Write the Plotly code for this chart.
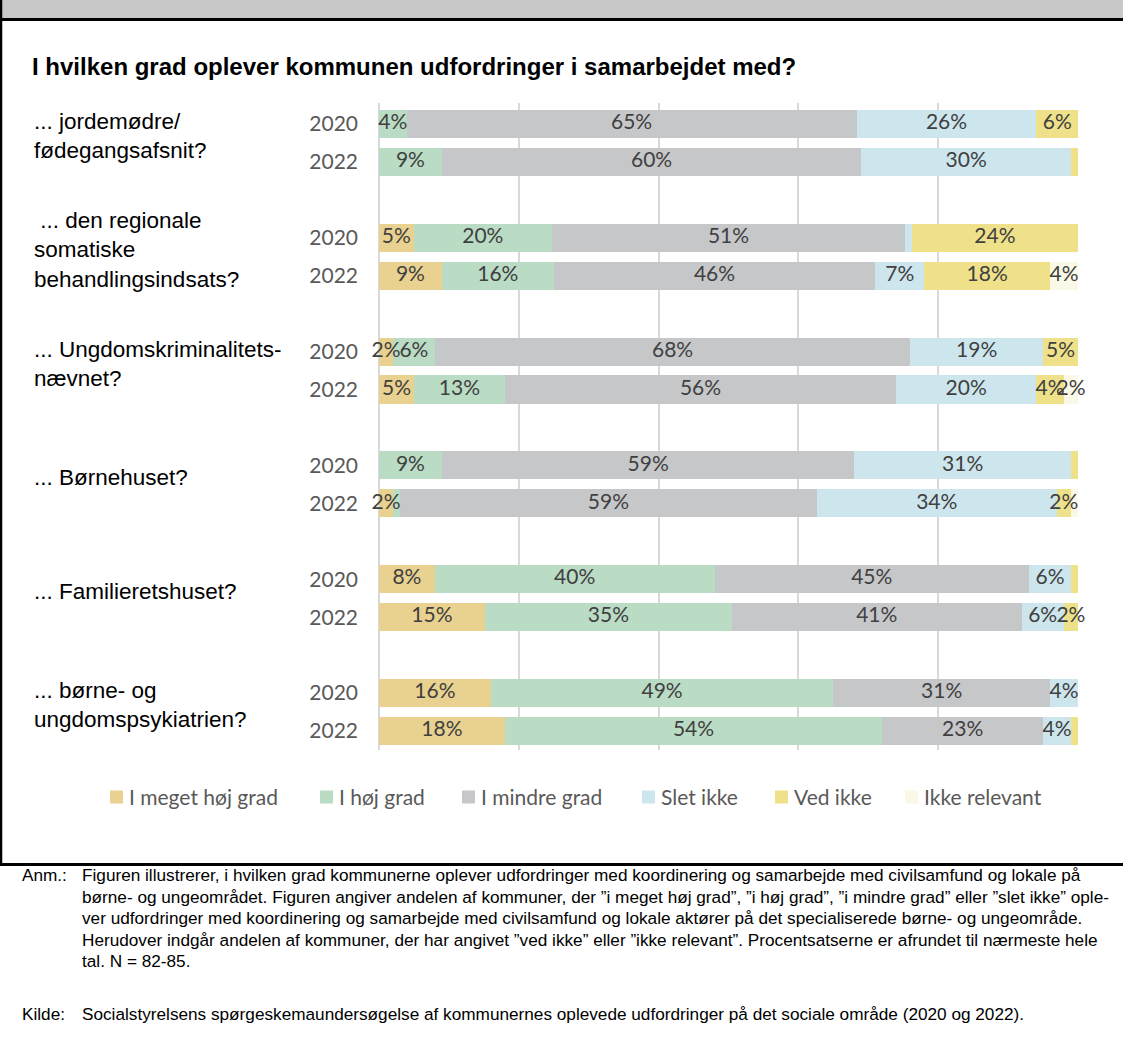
import plotly.graph_objects as go

# ---------------- data ----------------
categories = [
    "... jordemødre/<br>fødegangsafsnit?",
    "\u00a0... den regionale<br>somatiske<br>behandlingsindsats?",
    "... Ungdomskriminalitets-<br>nævnet?",
    "... Børnehuset?",
    "... Familieretshuset?",
    "... børne- og<br>ungdomspsykiatrien?",
]
years = ["2020", "2022"]
series_names = ["I meget høj grad", "I høj grad", "I mindre grad", "Slet ikke", "Ved ikke", "Ikke relevant"]

# order: cat1-2020, cat1-2022, cat2-2020, cat2-2022, ...
meget_hoej_grad = [0, 0, 5, 9, 2, 5, 0, 2, 8, 15, 16, 18]
hoej_grad = [4, 9, 20, 16, 6, 13, 9, 1, 40, 35, 49, 54]
mindre_grad = [65, 60, 51, 46, 68, 56, 59, 59, 45, 41, 31, 23]
slet_ikke = [26, 30, 1, 7, 19, 20, 31, 34, 6, 6, 4, 4]
ved_ikke = [6, 1, 24, 18, 5, 4, 1, 2, 1, 2, 0, 1]
ikke_relevant = [0, 0, 0, 4, 0, 2, 0, 1, 0, 0, 0, 0]

series_values = [meget_hoej_grad, hoej_grad, mindre_grad, slet_ikke, ved_ikke, ikke_relevant]
colors = ["#E9D18F", "#BADBC4", "#C6C7C9", "#CDE6EE", "#EEE18A", "#FAF8E6"]

title_text = "I hvilken grad oplever kommunen udfordringer i samarbejdet med?"
note_label = "Anm.:"
note_lines = [
    "Figuren illustrerer, i hvilken grad kommunerne oplever udfordringer med koordinering og samarbejde med civilsamfund og lokale på",
    "børne- og ungeområdet. Figuren angiver andelen af kommuner, der ”i meget høj grad”, ”i høj grad”, ”i mindre grad” eller ”slet ikke” ople-",
    "ver udfordringer med koordinering og samarbejde med civilsamfund og lokale aktører på det specialiserede børne- og ungeområde.",
    "Herudover indgår andelen af kommuner, der har angivet ”ved ikke” eller ”ikke relevant”. Procentsatserne er afrundet til nærmeste hele",
    "tal. N = 82-85.",
]
source_label = "Kilde:"
source_text = "Socialstyrelsens spørgeskemaundersøgelse af kommunernes oplevede udfordringer på det sociale område (2020 og 2022)."

# ---------------- layout helpers ----------------
FIG_W, FIG_H = 1123, 1045
L, R, T, B = 379, 1078, 103, 750
W, H = R - L, B - T

def px(x):
    return (x - L) / W

def py(y):
    return (B - y) / H

SLOTS_PER_GROUP = 3
ypos = []
ticktext = []
for g in range(len(categories)):
    for k, yr in enumerate(years):
        ypos.append(g * SLOTS_PER_GROUP + k)
        ticktext.append(yr)

LABEL_FONT = "Lato, Carlito, Calibri, sans-serif"
ARIAL = "Liberation Sans, Arial, sans-serif"

fig = go.Figure()
for name, vals, col in zip(series_names, series_values, colors):
    fig.add_trace(go.Bar(
        y=ypos, x=vals, name=name, orientation="h",
        marker=dict(color=col, line=dict(width=0)),
        width=0.74, hoverinfo="skip", showlegend=False,
    ))

# data labels on top of all bars (centre of each normalised segment)
n_rows = len(ypos)
totals = [sum(s[i] for s in series_values) for i in range(n_rows)]
lab_x, lab_y, lab_t = [], [], []
for i in range(n_rows):
    start = 0
    for s in series_values:
        v = s[i]
        if v >= 2:
            lab_x.append((start + v / 2) / totals[i] * 100)
            lab_y.append(ypos[i])
            lab_t.append(f"{v}%")
        start += v
fig.add_trace(go.Scatter(
    x=lab_x, y=lab_y, text=lab_t, mode="text", textposition="middle center",
    textfont=dict(family=LABEL_FONT, size=21, color="#404040"),
    cliponaxis=False, hoverinfo="skip", showlegend=False,
))

fig.update_layout(
    barmode="stack", barnorm="percent",
    width=FIG_W, height=FIG_H,
    margin=dict(l=L, r=FIG_W - R, t=T, b=FIG_H - B, pad=0),
    paper_bgcolor="white", plot_bgcolor="white",
    bargap=0,
    showlegend=False,
    xaxis=dict(
        range=[0, 100], dtick=20, showticklabels=False,
        showgrid=True, gridcolor="#D9D9D9", gridwidth=1.5,
        zeroline=True, zerolinecolor="#D9D9D9", zerolinewidth=1.5,
        showline=False, fixedrange=True,
    ),
    yaxis=dict(
        range=[(len(categories) - 1) * SLOTS_PER_GROUP + 1.5, -0.55],
        tickmode="array", tickvals=ypos, ticktext=ticktext,
        tickfont=dict(family=LABEL_FONT, size=21, color="#595959"),
        ticks="", ticklabelstandoff=20,
        showgrid=False, zeroline=False, showline=False, fixedrange=True,
    ),
)

annotations = []
shapes = []
# chart title
annotations.append(dict(
    xref="paper", yref="paper", x=px(30), y=py(66), xanchor="left", yanchor="middle",
    text=f"<b>{title_text}</b>", showarrow=False,
    font=dict(family=ARIAL, size=24, color="#000000"),
))
# category labels
for g, cat in enumerate(categories):
    annotations.append(dict(
        xref="paper", yref="y", x=px(32), y=g * SLOTS_PER_GROUP + 0.5,
        xanchor="left", yanchor="middle", align="left", yshift=7,
        text=cat, showarrow=False,
        font=dict(family=ARIAL, size=22.5, color="#000000"),
    ))

# legend (manual, single row)
legend_x = [110, 320, 462, 642, 775, 905]
for name, col, lx in zip(series_names, colors, legend_x):
    shapes.append(dict(type="rect", xref="paper", yref="paper",
                       x0=px(lx), x1=px(lx + 13), y0=py(803.5), y1=py(790.5),
                       fillcolor=col, line=dict(width=0)))
    annotations.append(dict(
        xref="paper", yref="paper", x=px(lx + 17), y=py(797), xanchor="left", yanchor="middle",
        text=name, showarrow=False, font=dict(family=LABEL_FONT, size=21, color="#595959"),
    ))

# notes
NOTE_SIZE = 17.2
annotations.append(dict(
    xref="paper", yref="paper", x=px(20), y=py(875), xanchor="left", yanchor="middle",
    text=note_label, showarrow=False, font=dict(family=ARIAL, size=NOTE_SIZE, color="#000000"),
))
for i, line in enumerate(note_lines):
    annotations.append(dict(
        xref="paper", yref="paper", x=px(80), y=py(875 + i * 21.5), xanchor="left", yanchor="middle",
        text=line, showarrow=False, font=dict(family=ARIAL, size=NOTE_SIZE, color="#000000"),
    ))
annotations.append(dict(
    xref="paper", yref="paper", x=px(20), y=py(1014), xanchor="left", yanchor="middle",
    text=source_label, showarrow=False, font=dict(family=ARIAL, size=NOTE_SIZE, color="#000000"),
))
annotations.append(dict(
    xref="paper", yref="paper", x=px(80), y=py(1014), xanchor="left", yanchor="middle",
    text=source_text, showarrow=False, font=dict(family=ARIAL, size=NOTE_SIZE, color="#000000"),
))
fig.update_layout(annotations=annotations)

shapes += [
    # grey header band
    dict(type="rect", xref="paper", yref="paper", x0=px(0), x1=px(FIG_W), y0=py(0), y1=py(18.5),
         fillcolor="#C8C8C8", line=dict(width=0), layer="below"),
    # header rule
    dict(type="line", xref="paper", yref="paper", x0=px(0), x1=px(FIG_W), y0=py(19.5), y1=py(19.5),
         line=dict(color="#000000", width=3)),
    # left border
    dict(type="line", xref="paper", yref="paper", x0=px(1), x1=px(1), y0=py(0), y1=py(865),
         line=dict(color="#000000", width=2.5)),
    # bottom rule of chart box
    dict(type="line", xref="paper", yref="paper", x0=px(0), x1=px(FIG_W), y0=py(864.5), y1=py(864.5),
         line=dict(color="#000000", width=3)),
]
fig.update_layout(shapes=shapes)

fig.write_html("out.html", config={"displayModeBar": False},
               post_script="document.body.style.margin='0px';")
